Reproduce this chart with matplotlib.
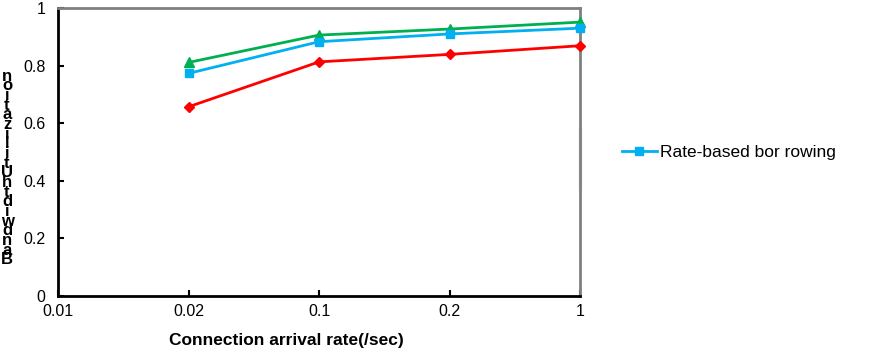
import numpy as np
import matplotlib.pyplot as plt

plt.rcParams['font.family'] = ['Liberation Sans', 'DejaVu Sans']

# categories on x (evenly spaced, not a real log axis)
rates = ['0.01', '0.02', '0.1', '0.2', '1']
pts = [1, 2, 3, 4]

green_vals = [0.811, 0.906, 0.927, 0.951]
blue_vals = [0.773, 0.883, 0.910, 0.930]
red_vals = [0.657, 0.813, 0.839, 0.869]

fig = plt.figure(figsize=(8.79, 3.56), dpi=100)
ax = fig.add_axes([0.066, 0.1685, 0.594, 0.809])

ax.plot(pts, red_vals, color='#FF0000', lw=2, marker='D', ms=5.5, clip_on=False, zorder=3)
ax.plot(pts, green_vals, color='#00B050', lw=2, marker='^', ms=6.5, clip_on=False, zorder=3)
ax.plot(pts, blue_vals, color='#00B0F0', lw=2, marker='s', ms=5.5, clip_on=False, zorder=3,
        label='Rate-based bor rowing')

ax.set_xlim(0, 4)
ax.set_ylim(0, 1)
ax.set_xticks(range(len(rates)))
ax.set_xticklabels(rates)
ax.set_yticks([0, 0.2, 0.4, 0.6, 0.8, 1])
ax.set_yticklabels(['0', '0.2', '0.4', '0.6', '0.8', '1'])
ax.tick_params(direction='in', length=4, width=1.5, labelsize=11.5, colors='black')
ax.tick_params(axis='x', pad=6)
ax.tick_params(axis='y', pad=9)

for s in ['left', 'bottom']:
    ax.spines[s].set_linewidth(2)
    ax.spines[s].set_color('black')
for s in ['top', 'right']:
    ax.spines[s].set_linewidth(2)
    ax.spines[s].set_color('#808080')
# lighter section of the right frame
ax.plot([1, 1], [0.37, 0.58], transform=ax.transAxes, color='#DDDDDD', lw=2.5, clip_on=False)

ax.set_xlabel('Connection arrival rate(/sec)', fontsize=12.5, fontweight='bold', labelpad=3)
ax.xaxis.set_label_coords(0.437, -0.13)

ylab = 'Bandwidth Utilization'.replace(' ', '')
fig.text(0.008, 0.528, '\n'.join(reversed(ylab)), fontsize=12, fontweight='bold',
         ha='center', va='center', linespacing=0.555)

ax.legend(loc='center left', bbox_to_anchor=(1.05, 0.5), frameon=False, fontsize=12.5,
          handlelength=2.0, handletextpad=0.2)

fig.savefig('out.png', dpi=100)
